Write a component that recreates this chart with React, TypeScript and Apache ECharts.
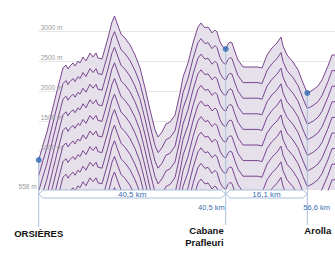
import React, { useEffect, useRef } from "react";
import * as echarts from "echarts";

// Stage 1: Orsières -> Cabane de Prafleuri (km, elevation m)
const STAGE1_KM = [0, 0.93, 1.8, 3.1, 4.18, 5.26, 5.91, 6.35, 6.78, 7.43, 7.86, 8.51, 8.95, 9.59, 10.24, 11.11, 11.76, 12.41, 12.84, 13.71, 14.14, 15.0, 15.87, 16.42, 16.96, 17.83, 18.69, 19.78, 20.86, 21.95, 23.03, 24.11, 25.2, 25.85, 26.71, 27.58, 28.45, 29.53, 30.61, 31.26, 32.34, 33.42, 34.5, 35.15, 36.02, 36.67, 37.54, 38.19, 38.62, 39.27, 39.92, 40.5];
const STAGE1_ELEV = [850, 1100, 1316, 1733, 2067, 2383, 2433, 2367, 2417, 2467, 2417, 2500, 2467, 2567, 2500, 2633, 2567, 2633, 2550, 2533, 2650, 2883, 3150, 3250, 3133, 2950, 2883, 2767, 2600, 2383, 2050, 1683, 1350, 1233, 1317, 1450, 1483, 1600, 1967, 2233, 2467, 2800, 3067, 3133, 3050, 3067, 2967, 3017, 2983, 2817, 2733, 2700];
// Stage 2: Cabane de Prafleuri -> Arolla -> ...
const STAGE2_KM = [40.5, 40.95, 41.35, 41.74, 42.34, 42.93, 43.91, 45.29, 46.87, 47.66, 48.65, 49.63, 50.62, 51.41, 51.81, 52.6, 53.78, 54.77, 55.76, 56.6, 57.72, 58.71, 59.5, 60.68, 61.47, 62.06];
const STAGE2_ELEV = [2700, 2783, 2817, 2800, 2650, 2517, 2400, 2400, 2400, 2383, 2600, 2717, 2800, 2900, 2750, 2600, 2483, 2350, 2133, 1967, 2017, 2083, 2183, 2417, 2600, 2600];

const WAYPOINT_NAMES = ["ORSIÈRES", "Cabane\nPrafleuri", "Arolla"];
const WAYPOINT_KM = [0, 40.5, 56.6];
const WAYPOINT_KM_LABELS = ["", "40,5 km", "56,6 km"];
const STAGE_LABELS = ["40,5 km", "16,1 km"];

const Y_TICKS = [1000, 1500, 2000, 2500, 3000];
const Y_MIN = 350;
const Y_MAX = 3350;
const LOWEST_POINT = 558;
const X_END = 62.06;

const LAYER_OFFSET = 260;
const LAYER_COUNT = 12;

const FONT = "'Liberation Sans', Arial, sans-serif";
const LINE_COLOR = "#7a4590";
const FILL_COLOR = "#e5e0ea";
const BLUE = "#2f6cb3";
const BLUE_TEXT = "#3d70b2";
const BLUE_LINE = "#a9bfdc";
const AXIS_TEXT = "#9a9a9a";

export default function App() {
  const ref = useRef<HTMLDivElement>(null);

  useEffect(() => {
    if (!ref.current) return;
    const chart = echarts.init(ref.current, null, { renderer: "svg" });

    const stages = [
      { km: STAGE1_KM, elev: STAGE1_ELEV },
      { km: STAGE2_KM, elev: STAGE2_ELEV },
    ];

    const series: any[] = [];
    stages.forEach((st, g) => {
      for (let k = 0; k < LAYER_COUNT; k++) {
        series.push({
          type: "line",
          xAxisIndex: g,
          yAxisIndex: g,
          data: st.km.map((x, i) => [x, st.elev[i] - k * LAYER_OFFSET]),
          symbol: "none",
          clip: true,
          silent: true,
          lineStyle: { color: LINE_COLOR, width: 1 },
          areaStyle: k === 0 ? { color: FILL_COLOR, opacity: 1, origin: "start" } : undefined,
          z: 2,
        });
      }
    });

    const elevAt = (km: number) => {
      const g = km <= STAGE1_KM[STAGE1_KM.length - 1] ? 0 : 1;
      const st = stages[g];
      const idx = st.km.indexOf(km);
      return { g, e: st.elev[idx] };
    };
    const wp = WAYPOINT_KM.map((km) => ({ km, ...elevAt(km) }));

    [0, 1].forEach((g) => {
      series.push({
        type: "scatter",
        xAxisIndex: g,
        yAxisIndex: g,
        symbolSize: 6,
        clip: false,
        itemStyle: { color: BLUE },
        data: wp.filter((w) => w.g === g).map((w) => [w.km, w.e]),
        z: 10,
      });
    });

    const yAxisBase = (g: number) => ({
      type: "value",
      gridIndex: g,
      position: "left",
      min: Y_MIN,
      max: Y_MAX,
      axisLine: { show: false },
      axisTick: { show: false, customValues: Y_TICKS },
      axisLabel: { show: false },
      splitLine: { show: true, lineStyle: { color: "#e6e6e6", width: 1 } },
    });

    const labelAxis = (values: number[], inside: boolean, fmt: (v: number) => string) => ({
      type: "value",
      gridIndex: 0,
      position: "left",
      offset: 0,
      min: Y_MIN,
      max: Y_MAX,
      z: 20,
      axisLine: { show: false },
      axisTick: { show: false },
      splitLine: { show: false },
      axisLabel: {
        inside,
        customValues: values,
        showMinLabel: true,
        showMaxLabel: true,
        margin: 2,
        verticalAlign: "bottom",
        fontSize: 6.5,
        fontFamily: FONT,
        color: AXIS_TEXT,
        formatter: fmt,
      },
    });

    const option: any = {
      animation: false,
      grid: [
        { left: 38.7, top: 10, width: 187, height: 180 },
        { left: 225.7, top: 10, right: 0, height: 180 },
      ],
      xAxis: [
        { type: "value", gridIndex: 0, min: 0, max: 40.5, show: false },
        { type: "value", gridIndex: 1, min: 40.5, max: X_END, show: false },
      ],
      yAxis: [
        yAxisBase(0),
        yAxisBase(1),
        labelAxis(Y_TICKS, true, (v: number) => `${v} m`),
        labelAxis([Y_MIN], false, () => `${LOWEST_POINT} m`),
      ],
      series,
    };

    chart.setOption(option);

    const px = (km: number, e: number) => {
      const g = km <= 40.5 ? 0 : 1;
      return chart.convertToPixel({ gridIndex: g } as any, [km, e]) as number[];
    };
    const base = chart.convertToPixel({ yAxisIndex: 0 } as any, Y_MIN) as number;
    const wpPx = wp.map((w) => px(w.km, w.e));

    const graphics: any[] = [];
    // vertical waypoint lines
    wpPx.forEach((p, i) => {
      graphics.push({
        type: "line",
        z: 5,
        silent: true,
        shape: { x1: p[0], y1: p[1], x2: p[0], y2: base + (i === 0 ? 37 : 35) },
        style: { stroke: BLUE_LINE, lineWidth: 1 },
      });
    });
    // stage brackets
    for (let s = 0; s < STAGE_LABELS.length; s++) {
      const xa = wpPx[s][0];
      const xb = wpPx[s + 1][0];
      const top = base;
      const bot = base + 8;
      const mid = base + 4;
      graphics.push({
        type: "polygon",
        z: 5,
        silent: true,
        shape: {
          points: [
            [xa, mid],
            [xa + 4.5, top],
            [xb - 4.5, top],
            [xb, mid],
            [xb - 4.5, bot],
            [xa + 4.5, bot],
          ],
        },
        style: { fill: "#ffffff", stroke: BLUE_LINE, lineWidth: 1 },
      });
      graphics.push({
        type: "text",
        z: 6,
        silent: true,
        x: (xa + xb) / 2,
        y: mid + 0.5,
        style: {
          text: STAGE_LABELS[s],
          fill: BLUE_TEXT,
          font: `8px ${FONT}`,
          align: "center",
          verticalAlign: "middle",
        },
      });
    }
    // cumulative km labels
    graphics.push({
      type: "text",
      z: 6,
      x: wpPx[1][0] - 1,
      y: base + 17,
      style: { text: WAYPOINT_KM_LABELS[1], fill: BLUE_TEXT, font: `7.5px ${FONT}`, align: "right", verticalAlign: "middle" },
    });
    graphics.push({
      type: "text",
      z: 6,
      x: wpPx[2][0] - 4,
      y: base + 17,
      style: { text: WAYPOINT_KM_LABELS[2], fill: BLUE_TEXT, font: `7.5px ${FONT}`, align: "left", verticalAlign: "middle" },
    });
    // waypoint names
    graphics.push({
      type: "text",
      z: 6,
      x: wpPx[0][0],
      y: base + 43.5,
      style: { text: WAYPOINT_NAMES[0], fill: "#111", font: `bold 9.5px ${FONT}`, align: "center", verticalAlign: "middle" },
    });
    graphics.push({
      type: "text",
      z: 6,
      x: wpPx[1][0] - 2,
      y: base + 34.5,
      style: { text: WAYPOINT_NAMES[1], fill: "#111", font: `bold 9.5px ${FONT}`, align: "right", verticalAlign: "top", lineHeight: 12 },
    });
    graphics.push({
      type: "text",
      z: 6,
      x: wpPx[2][0] - 3,
      y: base + 40,
      style: { text: WAYPOINT_NAMES[2], fill: "#111", font: `bold 9.5px ${FONT}`, align: "left", verticalAlign: "middle" },
    });

    chart.setOption({ graphic: graphics });

    return () => chart.dispose();
  }, []);

  return (
    <div
      ref={ref}
      style={{ position: "absolute", left: 0, top: 0, width: 335, height: 262, background: "#fff" }}
    />
  );
}
